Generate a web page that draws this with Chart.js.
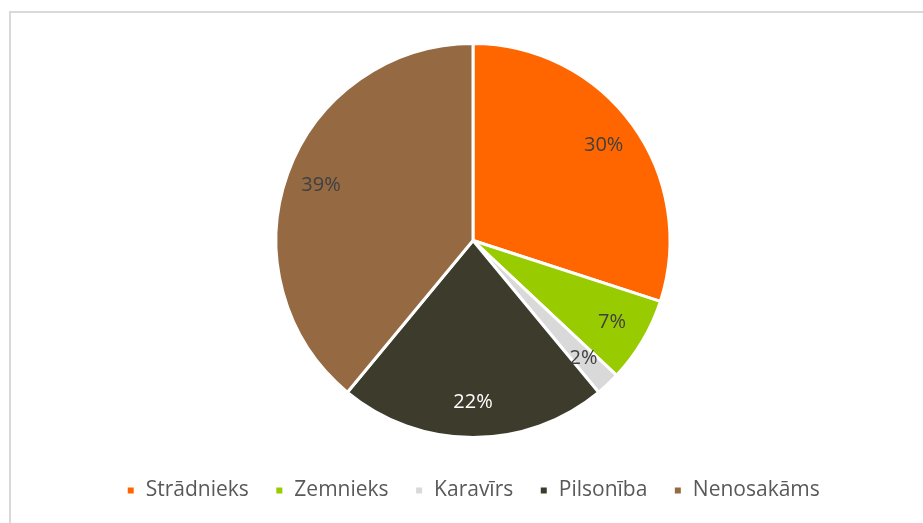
<!DOCTYPE html>
<html>
<head>
<meta charset="utf-8">
<script src="https://cdn.jsdelivr.net/npm/chart.js@4.4.0/dist/chart.umd.min.js"></script>
<style>
  html, body { margin: 0; padding: 0; background: #fff; overflow: hidden; }
  #frame {
    position: absolute; left: 9px; top: 11px; width: 940px; height: 540px;
    border: 2px solid #d9d9d9; box-sizing: border-box;
  }
  #wrap { position: absolute; left: 0; top: 0; width: 923px; height: 511px; }
</style>
</head>
<body>
<div id="frame"></div>
<div id="wrap"><canvas id="pieChart" width="923" height="511"></canvas></div>
<script>
// Data
const categories = ["Strādnieks", "Zemnieks", "Karavīrs", "Pilsonība", "Nenosakāms"];
const shares = [30, 7, 2, 22, 39];
const sliceColors = ["#FF6600", "#99CC00", "#D9D9D9", "#3D3B2C", "#956A43"];
const labelColors = ["#404040", "#404040", "#404040", "#FFFFFF", "#404040"];

const fontFamily = "'Open Sans', 'Liberation Sans', sans-serif";

// Percentage labels inside slices
const sliceLabels = {
  id: "sliceLabels",
  afterDatasetsDraw(chart) {
    const ctx = chart.ctx;
    const meta = chart.getDatasetMeta(0);
    const total = shares.reduce((a, b) => a + b, 0);
    ctx.save();
    ctx.font = "20px " + fontFamily;
    ctx.textAlign = "center";
    ctx.textBaseline = "middle";
    meta.data.forEach((arc, i) => {
      const p = arc.getProps(["x", "y", "startAngle", "endAngle", "outerRadius"], true);
      const mid = (p.startAngle + p.endAngle) / 2;
      const r = p.outerRadius * 0.82;
      ctx.fillStyle = labelColors[i];
      const pct = Math.round(shares[i] / total * 100) + "%";
      ctx.fillText(pct, p.x + Math.cos(mid) * r, p.y + Math.sin(mid) * r);
    });
    ctx.restore();
  }
};

new Chart(document.getElementById("pieChart"), {
  type: "pie",
  data: {
    labels: categories,
    datasets: [{
      data: shares,
      backgroundColor: sliceColors,
      borderColor: "#FFFFFF",
      borderWidth: 3,
      hoverOffset: 0
    }]
  },
  options: {
    responsive: false,
    animation: false,
    radius: 197,
    layout: { padding: { top: 27, bottom: 0, left: 29, right: 6 } },
    plugins: {
      tooltip: { enabled: false },
      legend: {
        position: "bottom",
        labels: {
          usePointStyle: true,
          pointStyle: "rect",
          boxWidth: 9,
          boxHeight: 9,
          padding: 26,
          color: "#595959",
          font: { size: 21, family: fontFamily }
        }
      }
    }
  },
  plugins: [sliceLabels]
});
</script>
</body>
</html>
